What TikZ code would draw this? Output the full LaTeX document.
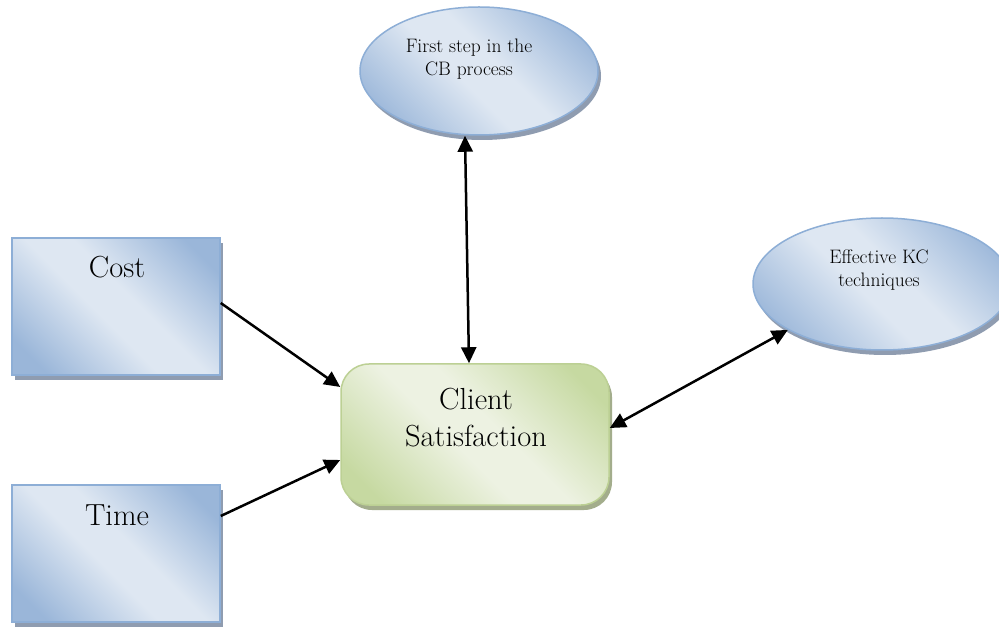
\documentclass[tikz,border=0pt]{standalone}
\usetikzlibrary{shapes.geometric,arrows.meta,shadows}
\definecolor{bluedark}{HTML}{9AB6D9}
\definecolor{bluelight}{HTML}{DEE7F2}
\definecolor{blueline}{HTML}{8DAED6}
\definecolor{blueshadow}{HTML}{8F9CB0}
\definecolor{greendark}{HTML}{C6D9A1}
\definecolor{greenlight}{HTML}{EDF2E2}
\definecolor{greenline}{HTML}{BCD094}
\definecolor{greenshadow}{HTML}{A3AD8C}
\pgfdeclareverticalshading{bluebands}{100bp}{color(0bp)=(bluedark); color(22bp)=(bluedark); color(45bp)=(bluelight); color(55bp)=(bluelight); color(78bp)=(bluedark); color(100bp)=(bluedark)}
\pgfdeclareverticalshading{greenbands}{100bp}{color(0bp)=(greendark); color(22bp)=(greendark); color(45bp)=(greenlight); color(55bp)=(greenlight); color(78bp)=(greendark); color(100bp)=(greendark)}
\tikzset{
  blueshape/.style={draw=blueline, line width=1.5pt, shading=bluebands, shading angle=-45,
    drop shadow={shadow xshift=3pt, shadow yshift=-5pt, fill=blueshadow, opacity=1}, inner sep=0pt},
  greenshape/.style={draw=greenline, line width=1.5pt, rounded corners=28pt, shading=greenbands, shading angle=-45,
    drop shadow={shadow xshift=3pt, shadow yshift=-5pt, fill=greenshadow, opacity=1}, inner sep=0pt},
  bigtxt/.style={font=\fontsize{30.5}{36}\selectfont, align=center, inner sep=0pt, anchor=base},
  smalltxt/.style={font=\fontsize{19.5}{23}\selectfont, align=center, inner sep=0pt, anchor=base},
  onearrow/.style={line width=2.5pt, -{Triangle[length=16pt,width=15pt]}},
  twoarrow/.style={line width=2.5pt, {Triangle[length=16pt,width=15pt]}-{Triangle[length=16pt,width=15pt]}},
}
\begin{document}
\begin{tikzpicture}[x=1pt,y=-1pt]
\useasboundingbox[fill=white] (0,0) rectangle (999,628);
% shapes
\node[blueshape, rectangle, minimum width=208pt, minimum height=137pt] (cost) at (116,306.5) {};
\node[blueshape, rectangle, minimum width=208pt, minimum height=137pt] (time) at (116,553.5) {};
\node[greenshape, rectangle, minimum width=268pt, minimum height=141pt] (client) at (475,434.5) {};
\node[blueshape, ellipse, minimum width=238pt, minimum height=128pt] (ell1) at (479,71) {};
\node[blueshape, ellipse, minimum width=258pt, minimum height=132pt] (ell2) at (882,284) {};
% texts (base anchor = last line's baseline)
\node[bigtxt] (costtext) at (117,278) {Cost};
\node[bigtxt] (timetext) at (117,525) {Time};
\node[bigtxt] (clienttext) at (476,446) {Client\\Satisfaction};
\node[smalltxt] (ell1text) at (469,76) {First step in the\\CB process};
\node[smalltxt] (ell2text) at (879,287) {Effective KC\\techniques};
% connectors
\draw[onearrow] ([yshift=3.5pt]cost.east) -- ([yshift=47.5pt]client.west);
\draw[onearrow] ([yshift=37.5pt]time.east) -- ([yshift=-25.5pt]client.west);
\draw[twoarrow] ([xshift=-14pt]ell1.south) -- ([xshift=-6pt]client.north);
\draw[twoarrow] ([yshift=6.5pt]client.east) -- (ell2.206);
\end{tikzpicture}
\end{document}
